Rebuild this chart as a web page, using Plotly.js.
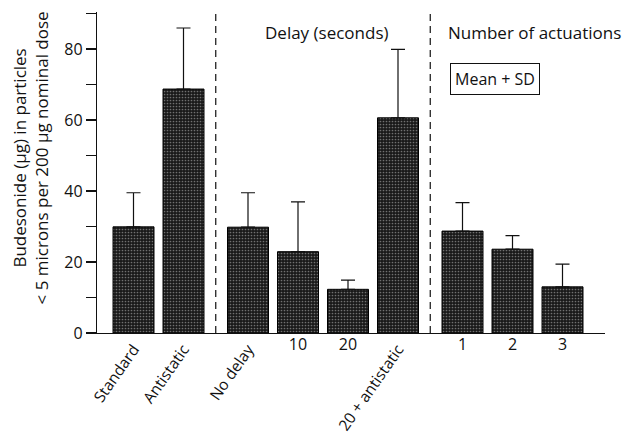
<!DOCTYPE html>
<html>
<head>
<meta charset="utf-8">
<script src="https://cdn.plot.ly/plotly-3.0.1.min.js"></script>
<style>
  html, body { margin: 0; padding: 0; background: #fff; }
  #chart { width: 630px; height: 436px; }
</style>
</head>
<body>
<div id="chart"></div>
<script>
// Budesonide fine-particle dose by spacer condition (mean + SD)
const categories = ['Standard', 'Antistatic', 'No delay', '10', '20', '20 + antistatic', '1', '2', '3'];
const groups     = [0, 0, 1, 1, 1, 1, 2, 2, 2];
const means      = [29.9, 68.7, 29.8, 22.9, 12.3, 60.6, 28.7, 23.6, 13.0];
const sds        = [9.6, 17.2, 9.7, 14.0, 2.6, 19.3, 8.0, 3.8, 6.4];
const groupTitles = ['', 'Delay (seconds)', 'Number of actuations'];
const yTickVals  = [0, 10, 20, 30, 40, 50, 60, 70, 80, 90];
const yTickText  = ['0', '', '20', '', '40', '', '60', '', '80', ''];
const yTitle     = 'Budesonide (μg) in particles<br>&lt; 5 microns per 200 μg nominal dose';

// horizontal layout: unit spacing within a group, extra gap between groups
const GROUP_GAP = 0.29;
const xPos = categories.map((c, i) => i + groups[i] * GROUP_GAP);

// long labels are drawn slanted, short numeric ones upright
const isSlanted = categories.map(c => isNaN(Number(c)));

const FONT = 'Open Sans, Noto Sans, sans-serif';
const barStyle = {
  color: '#222',
  line: { color: '#000', width: 1 },
  pattern: { shape: '.', bgcolor: '#191919', fgcolor: '#707070', size: 3, solidity: 0.25 }
};

function subset(flag) {
  const idx = categories.map((c, i) => i).filter(i => isSlanted[i] === flag);
  return {
    x: idx.map(i => xPos[i]),
    y: idx.map(i => means[i]),
    sd: idx.map(i => sds[i]),
    labels: idx.map(i => categories[i])
  };
}

function barTrace(s, xaxis) {
  return {
    type: 'bar',
    x: s.x,
    y: s.y,
    xaxis: xaxis,
    yaxis: 'y',
    width: 0.82,
    marker: barStyle,
    error_y: {
      type: 'data', symmetric: false,
      array: s.sd, arrayminus: s.sd.map(() => 0),
      color: '#111', thickness: 1.2, width: 7
    },
    hoverinfo: 'skip',
    showlegend: false
  };
}

const slanted = subset(true);
const upright = subset(false);

// dashed separators half-way between neighbouring groups
const shapes = [];
for (let i = 1; i < categories.length; i++) {
  if (groups[i] !== groups[i - 1]) {
    const xm = (xPos[i] + xPos[i - 1]) / 2;
    shapes.push({
      type: 'line', xref: 'x', yref: 'paper',
      x0: xm, x1: xm, y0: 0, y1: 1,
      line: { color: '#111', width: 1.2, dash: '7px,5px' }
    });
  }
}

const xRange = [-0.73, 9.43];

const layout = {
  width: 630,
  height: 436,
  margin: { l: 97, r: 25, t: 12, b: 103 },
  paper_bgcolor: '#fff',
  plot_bgcolor: '#fff',
  font: { family: FONT, size: 16, color: '#111' },
  barmode: 'overlay',
  xaxis: {
    range: xRange,
    tickvals: slanted.x,
    ticktext: slanted.labels,
    tickangle: -55,
    ticks: '',
    showline: true, linecolor: '#111', linewidth: 1.2,
    showgrid: false, zeroline: false,
    tickfont: { family: FONT, size: 15.5, color: '#111' }
  },
  xaxis2: {
    range: xRange,
    overlaying: 'x',
    anchor: 'y',
    side: 'bottom',
    tickvals: upright.x,
    ticktext: upright.labels,
    tickangle: 0,
    ticks: '',
    showline: false, showgrid: false, zeroline: false,
    tickfont: { family: FONT, size: 16, color: '#111' }
  },
  yaxis: {
    range: [0, 90.4],
    tickvals: yTickVals,
    ticktext: yTickText,
    ticks: 'outside', ticklen: 10, tickwidth: 1.2, tickcolor: '#111',
    showline: true, linecolor: '#111', linewidth: 1.2,
    showgrid: false, zeroline: false,
    tickfont: { family: FONT, size: 16, color: '#111' }
  },
  shapes: shapes,
  annotations: [
    {
      text: yTitle, xref: 'paper', yref: 'paper',
      x: -0.131, y: 0.545, xanchor: 'center', yanchor: 'middle',
      textangle: -90, showarrow: false,
      font: { family: FONT, size: 17, color: '#111' }
    },
    {
      text: groupTitles[1], xref: 'paper', yref: 'paper',
      x: 0.453, y: 0.935, xanchor: 'center', yanchor: 'middle',
      showarrow: false, font: { family: FONT, size: 17, color: '#111' }
    },
    {
      text: groupTitles[2], xref: 'paper', yref: 'paper',
      x: 0.687, y: 0.935, xanchor: 'left', yanchor: 'middle',
      showarrow: false, font: { family: FONT, size: 17, color: '#111' }
    },
    {
      text: 'Mean + SD', xref: 'paper', yref: 'paper',
      x: 0.783, y: 0.791, xanchor: 'center', yanchor: 'middle',
      showarrow: false, font: { family: FONT, size: 16, color: '#111' },
      bordercolor: '#111', borderwidth: 1, borderpad: 4, bgcolor: '#fff'
    }
  ]
};

Plotly.newPlot('chart', [barTrace(slanted, 'x'), barTrace(upright, 'x2')], layout,
  { staticPlot: true, displayModeBar: false });
</script>
</body>
</html>
